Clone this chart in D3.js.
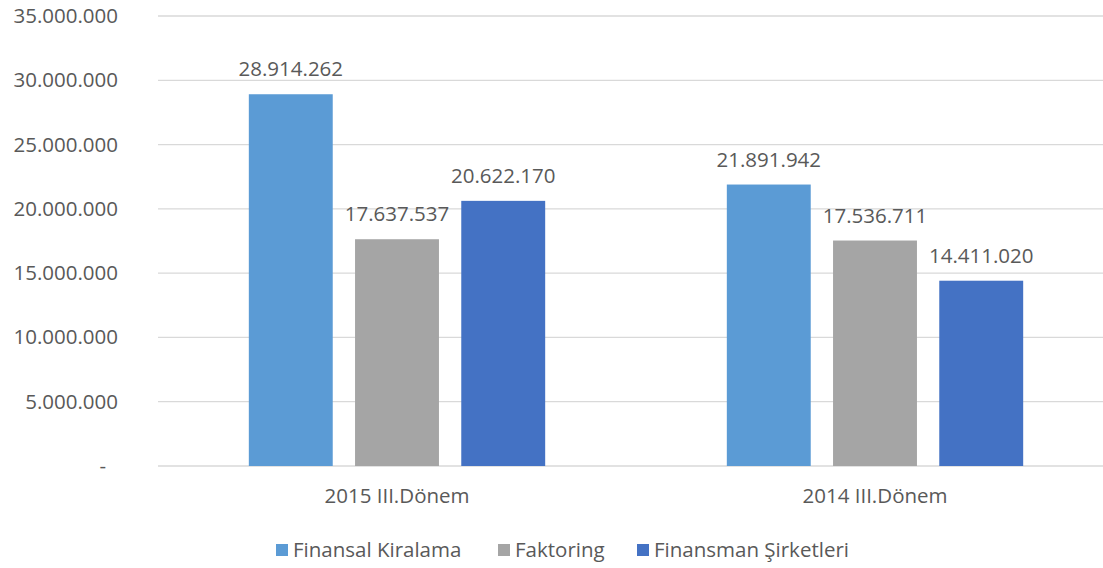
<!DOCTYPE html>
<html>
<head>
<meta charset="utf-8">
<script src="https://cdn.jsdelivr.net/npm/d3@7"></script>
<style>
  body { margin: 0; background: #fff; }
  text { font-family: "Open Sans", sans-serif; fill: #595959; }
</style>
</head>
<body>
<div id="chart-container"></div>
<script>
{ // start block scope

  // data
  const categories = ["2015 III.Dönem", "2014 III.Dönem"];
  const seriesNames = ["Finansal Kiralama", "Faktoring", "Finansman Şirketleri"];
  const finansalKiralama = [28914262, 21891942];
  const faktoring = [17637537, 17536711];
  const finansmanSirketleri = [20622170, 14411020];
  const yTicks = [0, 5000000, 10000000, 15000000, 20000000, 25000000, 30000000, 35000000];

  const seriesValues = [finansalKiralama, faktoring, finansmanSirketleri];

  const color = {
    blue: "#5b9bd5",
    gray: "#a5a5a5",
    darkBlue: "#4472c4",
    grid: "#d9d9d9",
    text: "#595959"
  };
  const seriesColors = [color.blue, color.gray, color.darkBlue];
  const fontSize = 20.5;

  const totalWidth = 1103;
  const totalHeight = 568;
  const margin = { top: 16, left: 158, bottom: 102, right: -11 };
  const width = totalWidth - margin.left - margin.right;
  const height = totalHeight - margin.top - margin.bottom;

  const trLocale = d3.formatLocale({ decimal: ",", thousands: ".", grouping: [3], currency: ["", ""] });
  const fmt = trLocale.format(",d");

  // svg
  const svg = d3.select('#chart-container')
    .append('svg')
    .attr('width', totalWidth)
    .attr('height', totalHeight);

  const g = svg.append('g')
    .attr('transform', `translate(${margin.left}, ${margin.top})`);

  // scales
  const xScale = d3.scaleBand()
    .domain(categories)
    .range([0, width]);

  const bw = xScale.bandwidth();
  const xInner = d3.scaleBand()
    .domain(seriesNames)
    .range([bw * 0.19, bw * 0.81])
    .paddingInner(0.21)
    .paddingOuter(0);

  const yScale = d3.scaleLinear()
    .domain([0, 35000000])
    .range([height, 0]);

  // gridlines
  g.append('g')
    .selectAll('line')
    .data(yTicks)
    .enter()
    .append('line')
    .attr('x1', 0)
    .attr('x2', width)
    .attr('y1', d => yScale(d))
    .attr('y2', d => yScale(d))
    .attr('stroke', color.grid)
    .attr('stroke-width', 1.3);

  // y axis
  const yAxis = d3.axisLeft(yScale)
    .tickValues(yTicks)
    .tickSize(0)
    .tickPadding(40)
    .tickFormat(d => d === 0 ? "-" : fmt(d));
  const yAxisGroup = g.append('g')
    .call(yAxis);
  yAxisGroup.select('.domain').remove();
  yAxisGroup.selectAll('text')
    .attr('font-size', fontSize)
    .attr('fill', color.text)
    .attr('dx', d => d === 0 ? -12 : 0);

  // x axis
  const xAxis = d3.axisBottom(xScale)
    .tickSize(0)
    .tickPadding(22);
  const xAxisGroup = g.append('g')
    .attr('transform', `translate(0, ${height})`)
    .call(xAxis);
  xAxisGroup.select('.domain').remove();
  xAxisGroup.selectAll('text')
    .attr('font-size', fontSize)
    .attr('fill', color.text);

  // bars
  const groups = g.selectAll('.group')
    .data(categories)
    .enter()
    .append('g')
    .attr('class', 'group')
    .attr('transform', d => `translate(${xScale(d)}, 0)`);

  groups.each(function (cat, ci) {
    const rows = seriesNames.map((s, si) => ({ series: s, value: seriesValues[si][ci], color: seriesColors[si] }));
    const grp = d3.select(this);
    grp.selectAll('rect')
      .data(rows)
      .enter()
      .append('rect')
      .attr('x', d => xInner(d.series))
      .attr('y', d => yScale(d.value))
      .attr('width', xInner.bandwidth())
      .attr('height', d => height - yScale(d.value))
      .attr('fill', d => d.color);
    grp.selectAll('.label')
      .data(rows)
      .enter()
      .append('text')
      .attr('class', 'label')
      .attr('x', d => xInner(d.series) + xInner.bandwidth() / 2)
      .attr('y', d => yScale(d.value) - 18)
      .attr('text-anchor', 'middle')
      .attr('font-size', fontSize)
      .text(d => fmt(d.value));
  });

  // legend
  const legendX = [276, 498, 637];
  const legend = svg.append('g')
    .attr('id', 'legend')
    .attr('transform', `translate(0, 550)`);
  const items = legend.selectAll('g')
    .data(seriesNames)
    .enter()
    .append('g')
    .attr('transform', (d, i) => `translate(${legendX[i]}, 0)`);
  items.append('rect')
    .attr('x', 0)
    .attr('y', -6)
    .attr('width', 12)
    .attr('height', 12)
    .attr('fill', (d, i) => seriesColors[i]);
  items.append('text')
    .attr('x', 17)
    .attr('y', 0)
    .attr('dy', '0.35em')
    .attr('font-size', fontSize)
    .text(d => d);

} // end block scope
</script>
</body>
</html>
